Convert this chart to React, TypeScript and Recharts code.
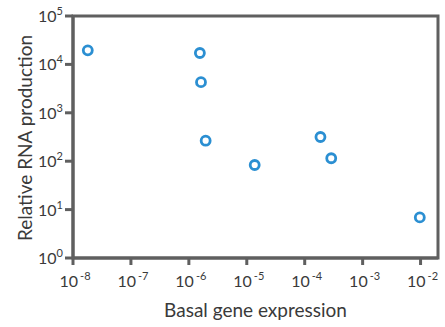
import React from 'react';
import { ScatterChart, Scatter, XAxis, YAxis, ReferenceArea, Label } from 'recharts';

const basalExpression = [1.8e-8, 1.55e-6, 1.62e-6, 1.95e-6, 1.37e-5, 1.87e-4, 2.87e-4, 9.7e-3];
const rnaProduction = [1.95e4, 1.72e4, 4.3e3, 265, 83.5, 316, 115, 6.9];
const xTicks = [1e-8, 1e-7, 1e-6, 1e-5, 1e-4, 1e-3, 1e-2];
const yTicks = [1, 10, 100, 1000, 10000, 100000];
const xLabel = 'Basal gene expression';
const yLabel = 'Relative RNA production';

const data = basalExpression.map((x, i) => ({ x, y: rnaProduction[i] }));

const FONT = 'Lato, "Open Sans", sans-serif';
const TEXT = '#3a3a3a';
const AXIS = '#5f5f5f';
const BLUE = '#2b8fd2';

const exp = (v: number) => Math.round(Math.log10(v));

const XTick = (props: any) => {
  const { x, y, payload } = props;
  const e = exp(payload.value);
  return (
    <text x={x + 2} y={y + 19} textAnchor="middle" fontFamily={FONT} fontSize={16} fill={TEXT}>
      <tspan>10</tspan>
      <tspan dx={2} dy={-7} fontSize={11}>{e < 0 ? '-' + Math.abs(e) : String(e)}</tspan>
    </text>
  );
};

const YTick = (props: any) => {
  const { x, y, payload } = props;
  const e = exp(payload.value);
  return (
    <text x={x} y={y + 6} textAnchor="end" fontFamily={FONT} fontSize={16} fill={TEXT}>
      <tspan>10</tspan>
      <tspan dy={-7} fontSize={11}>{String(e)}</tspan>
    </text>
  );
};

const Ring = (props: any) => (
  <circle cx={props.cx} cy={props.cy} r={4.5} fill="#ffffff" stroke={BLUE} strokeWidth={2.8} />
);

export default function App() {
  return (
    <div style={{ position: 'absolute', left: 0, top: 0, background: '#fff' }}>
      <ScatterChart width={445} height={327} margin={{ top: 16, right: 7, bottom: 0, left: 0 }}>
        <XAxis
          dataKey="x"
          type="number"
          scale="log"
          domain={[1e-8, 2e-2]}
          ticks={xTicks}
          interval={0}
          allowDataOverflow
          height={69}
          tick={<XTick />}
          tickSize={7}
          tickMargin={3}
          axisLine={{ stroke: AXIS, strokeWidth: 3 }}
          tickLine={{ stroke: AXIS, strokeWidth: 3 }}
        >
          <Label value={xLabel} position="insideBottom" offset={10} fontFamily={FONT} fontSize={19} fill={TEXT} />
        </XAxis>
        <YAxis
          dataKey="y"
          type="number"
          scale="log"
          domain={[1, 1e5]}
          ticks={yTicks}
          interval={0}
          allowDataOverflow
          width={73}
          tick={<YTick />}
          tickSize={8}
          tickMargin={2}
          axisLine={{ stroke: AXIS, strokeWidth: 3 }}
          tickLine={{ stroke: AXIS, strokeWidth: 3 }}
        >
          <Label
            content={() => (
              <text
                x={24}
                y={138}
                transform="rotate(-90 24 138)"
                textAnchor="middle"
                dominantBaseline="central"
                fontFamily={FONT}
                fontSize={19}
                fill={TEXT}
              >
                {yLabel}
              </text>
            )}
          />
        </YAxis>
        <ReferenceArea
          x1={1e-8}
          x2={2e-2}
          y1={1}
          y2={1e5}
          fill="none"
          stroke={AXIS}
          strokeWidth={3}
          ifOverflow="visible"
        />
        <Scatter data={data} shape={<Ring />} isAnimationActive={false} />
      </ScatterChart>
    </div>
  );
}
